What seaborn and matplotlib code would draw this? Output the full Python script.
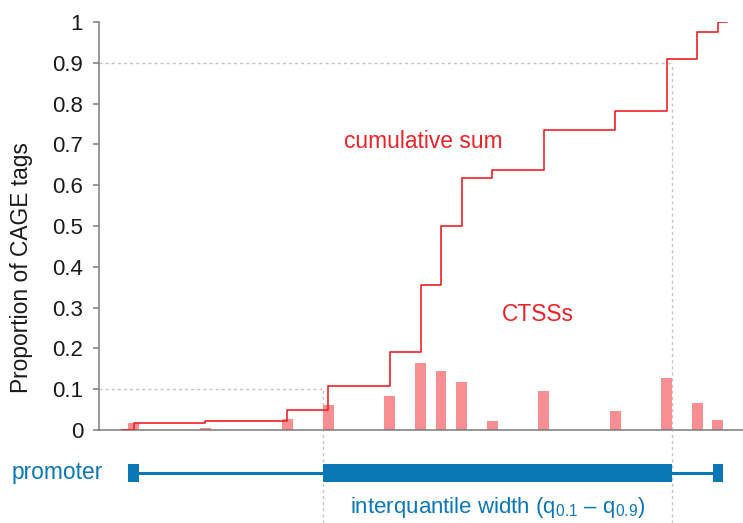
import numpy as np
import matplotlib
matplotlib.use("Agg")
import matplotlib.pyplot as plt
import seaborn as sns

# ---- data ----
positions = [0, 7, 15, 19, 25, 28, 30, 32, 35, 40, 47, 52, 55, 57]
tag_share = [0.016, 0.005, 0.027, 0.061, 0.083, 0.164, 0.146, 0.118,
             0.021, 0.097, 0.047, 0.128, 0.066, 0.025]
ytick_values = [0, 0.1, 0.2, 0.3, 0.4, 0.5, 0.6, 0.7, 0.8, 0.9, 1.0]
ytick_labels = ["0", "0.1", "0.2", "0.3", "0.4", "0.5", "0.6", "0.7", "0.8", "0.9", "1"]
q_levels = [0.1, 0.9]

RED = "#ec2229"
PINK = "#f68e92"
BLUE = "#0a77b5"
GRID = "#c4c4c4"
SPINE = "#7a7a7a"
FS = 16.4

sns.set_style("white")
plt.rcParams["font.family"] = ["Liberation Sans", "DejaVu Sans"]
plt.rcParams["mathtext.fontset"] = "custom"
plt.rcParams["mathtext.rm"] = "Liberation Sans"
plt.rcParams["mathtext.it"] = "Liberation Sans"

props = np.array(tag_share) / np.sum(tag_share)
cum = np.cumsum(props)
pos = np.array(positions, dtype=float)
q_low = pos[np.argmax(cum >= q_levels[0])] - 0.5
q_high = pos[np.argmax(cum >= q_levels[1])] + 0.5

step_x = np.concatenate([[pos[0] - 1.1], pos, [pos[-1] + 0.9]])
step_y = np.concatenate([[0], cum, [cum[-1]]])

W, H = 743, 523
fig = plt.figure(figsize=(W / 100, H / 100), dpi=100)
left = 99 / W
ax = fig.add_axes([left, 1 - 430 / H, 1 - left, (430 - 22) / H])
axb = fig.add_axes([left, 0, 1 - left, (H - 430) / H], sharex=ax)

xlim = (-3.37, 59.46)

# bars
sns.barplot(x=positions, y=props, native_scale=True, width=0.53, color=PINK,
            saturation=1, errorbar=None, ax=ax, zorder=1, linewidth=0)
# cumulative step line
sns.lineplot(x=step_x, y=step_y, drawstyle="steps-post", color=RED, lw=1.2,
             sort=False, estimator=None, ax=ax, zorder=3)

# quantile guides
dash = (0, (2.2, 2.2))
ax.plot([xlim[0], q_low], [q_levels[0]] * 2, color=GRID, lw=1, ls=dash, zorder=0)
ax.plot([xlim[0], q_high], [q_levels[1]] * 2, color=GRID, lw=1, ls=dash, zorder=0)
ax.plot([q_low, q_low], [0, q_levels[0]], color=GRID, lw=1, ls=dash, zorder=0)
ax.plot([q_high, q_high], [0, q_levels[1]], color=GRID, lw=1, ls=dash, zorder=0)

ax.set_xlim(*xlim)
ax.set_ylim(0, 1)
ax.set_yticks(ytick_values)
ax.set_yticklabels(ytick_labels)
ax.set_xticks([])
ax.set_xlabel("")
ax.set_ylabel("")
for s in ["top", "right"]:
    ax.spines[s].set_visible(False)
for s in ["left", "bottom"]:
    ax.spines[s].set_color(SPINE)
    ax.spines[s].set_linewidth(1.1)
ax.tick_params(axis="y", left=True, length=4.5, width=1.1, color=SPINE,
               labelsize=16, pad=7, labelcolor="#1a1a1a")

ax.text(20.5, 0.706, "cumulative sum", color=RED, fontsize=FS, va="center", ha="left")
ax.text(35.95, 0.282, "CTSSs", color=RED, fontsize=FS, va="center", ha="left")

fig.text(22 / W, 1 - 268 / H, "Proportion of CAGE tags", rotation=90,
         fontsize=FS, va="center", ha="center", color="#1a1a1a")

# promoter track
axb.set_ylim(0, 1)
axb.axis("off")
yc = (H - 473) / (H - 430)
hh = 9 / (H - 430)
axb.plot([q_low, q_low], [0, 1], color=GRID, lw=1, ls=dash, zorder=0)
axb.plot([q_high, q_high], [0, 1], color=GRID, lw=1, ls=dash, zorder=0)
axb.plot([pos[0], pos[-1]], [yc, yc], color=BLUE, lw=2.2, zorder=2, solid_capstyle="butt")
axb.broken_barh([(pos[0] - 0.5, 1.05), (pos[-1] - 0.5, 1.05), (q_low, q_high - q_low)],
                (yc - hh, 2 * hh), facecolor=BLUE, edgecolor="none", zorder=3)
axb.text((q_low + q_high) / 2, (H - 508) / (H - 430),
         r"interquantile width (q$_{0.1}$ – q$_{0.9}$)", color=BLUE,
         fontsize=16, ha="center", va="center")
fig.text(12 / W, 1 - 473 / H, "promoter", color=BLUE, fontsize=FS,
         ha="left", va="center")

fig.savefig("out.png", dpi=100)
